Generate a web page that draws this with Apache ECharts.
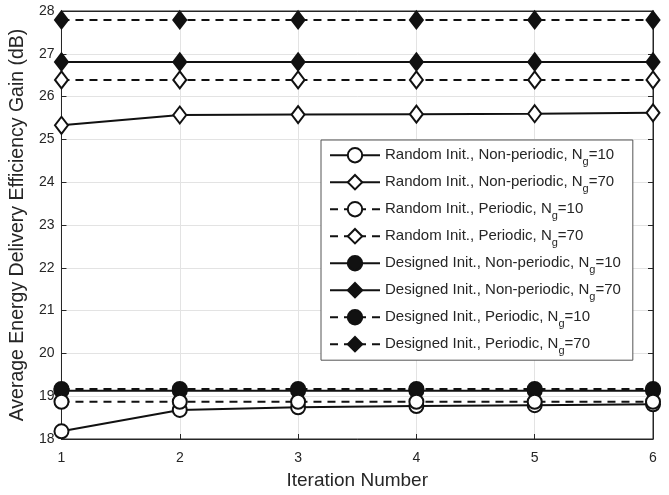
<!DOCTYPE html>
<html>
<head>
<meta charset="utf-8">
<script src="https://cdn.jsdelivr.net/npm/echarts@6/dist/echarts.min.js"></script>
<style>
  html, body { margin: 0; padding: 0; background: #fff; }
  #chart { width: 669px; height: 495px; }
</style>
</head>
<body>
<div id="chart"></div>
<script>
const iterations = [1, 2, 3, 4, 5, 6];
const randomNonPeriodic10 = [18.18, 18.68, 18.74, 18.77, 18.79, 18.81];
const randomNonPeriodic70 = [25.33, 25.57, 25.58, 25.59, 25.60, 25.62];
const randomPeriodic10 = [18.87, 18.87, 18.87, 18.87, 18.87, 18.87];
const randomPeriodic70 = [26.39, 26.39, 26.39, 26.39, 26.39, 26.39];
const designedNonPeriodic10 = [19.13, 19.13, 19.13, 19.13, 19.13, 19.13];
const designedNonPeriodic70 = [26.81, 26.81, 26.81, 26.81, 26.81, 26.81];
const designedPeriodic10 = [19.17, 19.17, 19.17, 19.17, 19.17, 19.17];
const designedPeriodic70 = [27.79, 27.79, 27.79, 27.79, 27.79, 27.79];

const font = "'Liberation Sans', Arial, sans-serif";
const ink = "#262626";

function line(name, values, symbol, filled, dashed) {
  const isDiamond = symbol === "diamond";
  return {
    name,
    type: "line",
    data: iterations.map((x, i) => [x, values[i]]),
    symbol,
    symbolSize: isDiamond ? [13, 17] : 14,
    showSymbol: true,
    lineStyle: { color: "#111", width: 2, type: dashed ? [8, 6] : "solid" },
    itemStyle: { color: filled ? "#111" : "#fff", borderColor: "#111", borderWidth: 2 },
    emphasis: { disabled: true },
    z: filled ? 3 : 4,
  };
}

// mirror axes give the MATLAB-style ticks on the top and right edges
const mirror = {
  axisLine: { show: true, lineStyle: { color: ink } },
  axisTick: { inside: true, length: 5, lineStyle: { color: ink } },
  axisLabel: { show: false },
  splitLine: { show: false },
};

const chart = echarts.init(document.getElementById("chart"));
chart.setOption({
  animation: false,
  textStyle: { fontFamily: font },
  grid: { left: 60, right: 16, top: 11, bottom: 55, show: true, borderColor: ink, borderWidth: 1 },
  xAxis: [
    {
      type: "value",
      min: 1,
      max: 6,
      interval: 1,
      name: "Iteration Number",
      nameLocation: "middle",
      nameGap: 32,
      nameTextStyle: { color: ink, fontSize: 19, fontFamily: font },
      axisLine: { lineStyle: { color: ink } },
      axisTick: { inside: true, length: 5, lineStyle: { color: ink } },
      axisLabel: { color: ink, fontSize: 14, margin: 12 },
      splitLine: { lineStyle: { color: "#e3e3e3" } },
    },
    { type: "value", position: "top", min: 1, max: 6, interval: 1, ...mirror },
  ],
  yAxis: [
    {
      type: "value",
      min: 18,
      max: 28,
      interval: 1,
      name: "Average Energy Delivery Efficiency Gain (dB)",
      nameLocation: "middle",
      nameGap: 29,
      nameTextStyle: { color: ink, fontSize: 19.5, fontFamily: font },
      axisLine: { lineStyle: { color: ink } },
      axisTick: { inside: true, length: 5, lineStyle: { color: ink } },
      axisLabel: { color: ink, fontSize: 14, margin: 7 },
      splitLine: { lineStyle: { color: "#e3e3e3" } },
    },
    { type: "value", position: "right", min: 18, max: 28, interval: 1, ...mirror },
  ],
  legend: {
    orient: "vertical",
    left: 321,
    top: 140,
    padding: [7, 12, 4, 8],
    itemGap: 6.8,
    itemWidth: 50,
    itemHeight: 18,
    backgroundColor: "#fff",
    borderColor: "#555",
    borderWidth: 1,
    borderRadius: 0,
    textStyle: {
      color: ink,
      fontSize: 15,
      fontFamily: font,
      rich: {
        sub: { fontSize: 11, color: ink, fontFamily: font, padding: [13, 0, 0, 0] },
      },
    },
    formatter: (name) => name.replace("Ng", "N{sub|g}"),
  },
  series: [
    line("Random Init., Non-periodic, Ng=10", randomNonPeriodic10, "circle", false, false),
    line("Random Init., Non-periodic, Ng=70", randomNonPeriodic70, "diamond", false, false),
    line("Random Init., Periodic, Ng=10", randomPeriodic10, "circle", false, true),
    line("Random Init., Periodic, Ng=70", randomPeriodic70, "diamond", false, true),
    line("Designed Init., Non-periodic, Ng=10", designedNonPeriodic10, "circle", true, false),
    line("Designed Init., Non-periodic, Ng=70", designedNonPeriodic70, "diamond", true, false),
    line("Designed Init., Periodic, Ng=10", designedPeriodic10, "circle", true, true),
    line("Designed Init., Periodic, Ng=70", designedPeriodic70, "diamond", true, true),
  ],
});
</script>
</body>
</html>
